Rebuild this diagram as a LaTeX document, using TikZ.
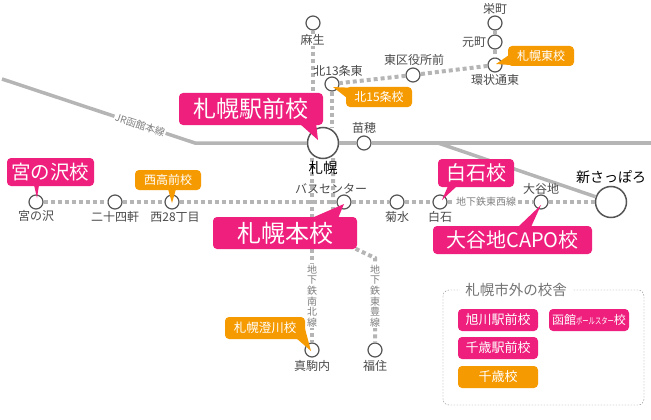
\documentclass[tikz,border=0pt]{standalone}
\usepackage{fontspec}
\setmainfont{Noto Sans CJK JP}
\usepackage{xcolor}
\definecolor{schoolpink}{HTML}{EF1F7D}
\definecolor{schoolorange}{HTML}{F59A00}
\definecolor{linegray}{HTML}{B5B5B5}
\definecolor{ringgray}{HTML}{555555}
\definecolor{labelgray}{HTML}{4A4A4A}
\usetikzlibrary{calc}
\tikzset{
    stn/.style={circle, draw=ringgray, fill=white, line width=1.2pt, inner sep=0pt, minimum size=14pt},
    bigstn/.style={stn, line width=1.5pt, minimum size=31pt},
    stnname/.style={text=labelgray, font=\fontsize{12}{12}\selectfont, inner sep=0pt},
    jrline/.style={linegray, line width=3.5pt},
    subway/.style={linegray, line width=4pt, dash pattern=on 4pt off 3pt},
    linename/.style={text=gray, fill=white, font=\fontsize{10}{10}\selectfont, inner sep=1pt},
    vertname/.style={linename, align=center, font=\fontsize{10}{10.6}\selectfont},
    pinkbox/.style={fill=schoolpink, text=white, rounded corners=4pt, inner sep=0pt},
    orangebox/.style={fill=schoolorange, text=white, rounded corners=4pt, inner sep=0pt}
}
\begin{document}
\begin{tikzpicture}[x=1pt, y=-1pt]
    \useasboundingbox (0, 0) rectangle (651, 420);
    % JR stations
    \node (sapporo) at (323, 143) [bigstn]{};
    \node (naebo) at (364, 143) [stn]{};
    \node (shinsapporo) at (611, 202) [bigstn]{};
    % Toho line stations
    \node (sakaemachi) at (495, 23) [stn]{};
    \node (motomachi) at (495, 42) [stn]{};
    \node (kanjo) at (495, 65) [stn]{};
    \node (higashiku) at (413, 75) [stn]{};
    \node (kita13) at (332, 84) [stn]{};
    \node (fukuzumi) at (375, 350) [stn]{};
    % Namboku line stations
    \node (asabu) at (313, 23) [stn]{};
    \node (makomanai) at (312, 350) [stn]{};
    % Tozai line stations
    \node (miyanosawa) at (36, 202) [stn]{};
    \node (nijuyon) at (115, 202) [stn]{};
    \node (nishi28) at (172, 202) [stn]{};
    \node (buscenter) at (344, 202) [stn]{};
    \node (kikusui) at (397, 202) [stn]{};
    \node (shiroishi) at (440, 202) [stn]{};
    \node (oyachi) at (541, 202) [stn]{};
    % JR line
    \coordinate (jrwest) at (2, 79);
    \coordinate (jrbend) at (195, 143);
    \coordinate (jreast) at (651, 143);
    \coordinate (jrfork) at (438, 143);
    \draw [jrline] (jrwest) -- (jrbend) -- (sapporo);
    \draw [jrline] (sapporo) -- (naebo);
    \draw [jrline] (naebo) -- (jreast);
    \draw [jrline] (jrfork) -- (shinsapporo);
    % Namboku line
    \coordinate (namnorth) at (313, 92);
    \coordinate (namsouth) at (312, 158);
    \draw [subway] (asabu) -- (namnorth);
    \draw [subway] (namsouth) -- (makomanai);
    % Toho line
    \coordinate (tohonorth) at (332, 128);
    \coordinate (tohosouth) at (333, 158);
    \coordinate (tohoelbow) at (333, 238);
    \coordinate (tohobend) at (375, 258);
    \draw [subway] (sakaemachi) -- (motomachi);
    \draw [subway] (motomachi) -- (kanjo);
    \draw [subway] (kanjo) -- (higashiku);
    \draw [subway] (higashiku) -- (kita13);
    \draw [subway] (kita13) -- (tohonorth);
    \draw [subway] (tohosouth) -- (tohoelbow) -- (tohobend) -- (fukuzumi);
    % Tozai line
    \draw [subway] (miyanosawa) -- (nijuyon);
    \draw [subway] (nijuyon) -- (nishi28);
    \draw [subway] (nishi28) -- (buscenter);
    \draw [subway] (buscenter) -- (kikusui);
    \draw [subway] (kikusui) -- (shiroishi);
    \draw [subway] (shiroishi) -- (oyachi);
    \draw [subway] (oyachi) -- (shinsapporo);
    % Line names
    \node (jrname) at (140, 125) [linename, rotate=-18.3, text=gray]{JR函館本線};
    \node (tozainame) at (486, 202) [linename]{地下鉄東西線};
    \node (namname) at (312, 296) [vertname]{地\\下\\鉄\\南\\北\\線};
    \node (tohoname) at (375, 296) [vertname]{地\\下\\鉄\\東\\豊\\線};
    % Station names
    \node (asabuname) at (312.5, 40) [stnname, fill=white]{麻生};
    \node (kita13name) at (338, 71) [stnname]{北13条東};
    \node (higashikuname) at (414, 60) [stnname]{東区役所前};
    \node (kanjoname) at (495, 80) [stnname]{環状通東};
    \node (motomachiname) at (474, 42) [stnname]{元町};
    \node (sakaemachiname) at (495, 9) [stnname]{栄町};
    \node (naeboname) at (364, 128) [stnname]{苗穂};
    \node (sapporoname) at (323, 168) [stnname, text=black, font=\fontsize{14.5}{14.5}\selectfont]{札幌};
    \node (shinsapporoname) at (611, 177) [stnname, text=black, font=\fontsize{14}{14}\selectfont]{新さっぽろ};
    \node (miyanosawaname) at (36, 216) [stnname]{宮の沢};
    \node (nijuyonname) at (115, 217) [stnname]{二十四軒};
    \node (nishi28name) at (175, 217) [stnname]{西28丁目};
    \node (buscentername) at (331, 189) [stnname]{バスセンター};
    \node (kikusuiname) at (397, 217) [stnname]{菊水};
    \node (shiroishiname) at (440, 217) [stnname]{白石};
    \node (oyachiname) at (541, 189) [stnname]{大谷地};
    \node (makomanainame) at (312, 366) [stnname]{真駒内};
    \node (fukuzuminame) at (375, 366) [stnname]{福住};
    % Sapporo Station school
    \node (ekimae) at (251, 109) [pinkbox, minimum width=144pt, minimum height=32pt, font=\fontsize{23}{23}\selectfont]{札幌駅前校};
    \fill [schoolpink] ($(ekimae.south east)+(-23, -1)$) -- (318, 140) -- ($(ekimae.south east)+(-7, -1)$) -- cycle;
    % Sapporo main school
    \node (honko) at (285, 233) [pinkbox, minimum width=144pt, minimum height=32pt, font=\fontsize{24}{24}\selectfont]{札幌本校};
    \fill [schoolpink] ($(honko.north east)+(-45, 1)$) -- (344, 204) -- ($(honko.north east)+(-19, 1)$) -- cycle;
    % Miyanosawa school
    \node (miyako) at (50.5, 172) [pinkbox, minimum width=87pt, minimum height=28pt, font=\fontsize{19.5}{19.5}\selectfont]{宮の沢校};
    \fill [schoolpink] (34, 185) -- (37, 198) -- (39, 185) -- cycle;
    % Shiroishi school
    \node (shiroko) at (476, 173) [pinkbox, minimum width=76pt, minimum height=28pt, font=\fontsize{20}{20}\selectfont]{白石校};
    \fill [schoolpink] (448, 186) -- (442, 200) -- (457, 186) -- cycle;
    % Oyachi CAPO school
    \node (capo) at (512.5, 240) [pinkbox, minimum width=159pt, minimum height=28pt, font=\fontsize{20}{20}\selectfont]{大谷地CAPO校};
    \fill [schoolpink] (518, 227) -- (541, 205) -- (531, 227) -- cycle;
    % Nishi Koko school
    \node (nishiko) at (168, 180) [orangebox, minimum width=66pt, minimum height=20pt, font=\fontsize{12}{12}\selectfont]{西高前校};
    \fill [schoolorange] (168, 189) -- (172, 203) -- (176, 189) -- cycle;
    % Kita 15 school
    \node (kita15) at (379, 97) [orangebox, minimum width=66pt, minimum height=20pt, font=\fontsize{12}{12}\selectfont]{北15条校};
    \fill [schoolorange] (347, 98) -- (333, 87) -- (356, 88) -- cycle;
    % Higashi school
    \node (higashiko) at (541, 56) [orangebox, minimum width=66pt, minimum height=20pt, font=\fontsize{12}{12}\selectfont]{札幌東校};
    \fill [schoolorange] (509, 55) -- (496, 64) -- (510, 65) -- cycle;
    % Sumikawa school
    \node (sumikawa) at (265, 328) [orangebox, minimum width=80pt, minimum height=22pt, font=\fontsize{12.5}{12.5}\selectfont]{札幌澄川校};
    \fill [schoolorange] (296, 338) -- (311, 351) -- (304, 325) -- cycle;
    % Schools outside the city
    \coordinate (outernw) at (443, 290);
    \coordinate (outerse) at (644, 405);
    \draw [gray, dash pattern=on 1.5pt off 1.5pt, rounded corners=6pt] (outernw) rectangle (outerse);
    \node (outertitle) at (516, 290) [fill=white, text=gray!90!black, inner xsep=5pt, inner ysep=1pt, font=\fontsize{14.5}{14.5}\selectfont]{札幌市外の校舎};
    \node (asahikawa) at (498, 320) [pinkbox, minimum width=80pt, minimum height=22pt, font=\fontsize{13}{13}\selectfont]{旭川駅前校};
    \node (chitoseeki) at (498, 348) [pinkbox, minimum width=80pt, minimum height=22pt, font=\fontsize{13}{13}\selectfont]{千歳駅前校};
    \node (chitose) at (498, 377) [orangebox, minimum width=80pt, minimum height=22pt, font=\fontsize{13}{13}\selectfont]{千歳校};
    \node (hakodate) at (589, 320) [pinkbox, minimum width=80pt, minimum height=22pt, font=\fontsize{12}{12}\selectfont]{函館\scalebox{0.7}[1]{\fontsize{9}{9}\selectfont ポールスター}校};
\end{tikzpicture}
\end{document}
